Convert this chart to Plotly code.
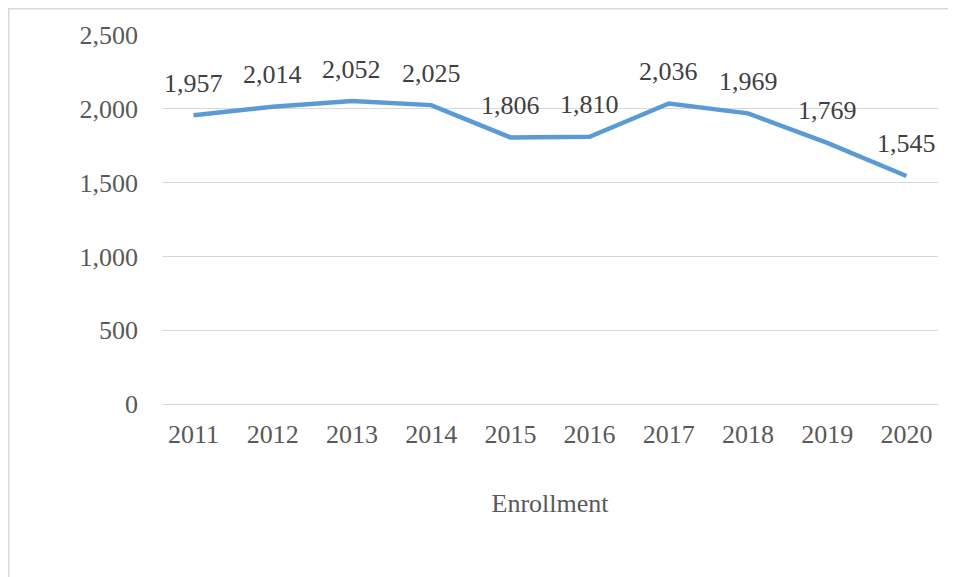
import plotly.graph_objects as go

years = ["2011", "2012", "2013", "2014", "2015", "2016", "2017", "2018", "2019", "2020"]
enrollment = [1957, 2014, 2052, 2025, 1806, 1810, 2036, 1969, 1769, 1545]
y_ticks = [0, 500, 1000, 1500, 2000, 2500]
y_tick_labels = ["0", "500", "1,000", "1,500", "2,000", "2,500"]
series_name = "Enrollment"

FONT = "'Liberation Serif', 'Times New Roman', 'DejaVu Serif', serif"
FS = 26
fig = go.Figure()
fig.add_trace(go.Scatter(
    x=years, y=enrollment, mode="lines",
    line=dict(color="#5B9BD5", width=4.5),
    hoverinfo="x+y", showlegend=False,
))

for i, v in enumerate(enrollment):
    fig.add_annotation(x=i, y=v, text=f"{v:,}", showarrow=False,
                       yshift=32, font=dict(family=FONT, size=FS, color="#404040"))

# page body has an 8px margin, so the figure is drawn 8px in and 8px down
PL, PT, PW, PH = 154, 27, 776, 369
W, H = 948, 569
fig.add_shape(type="rect", xref="paper", yref="paper",
              x0=(0.75 - PL) / PW, x1=1.05, y0=-0.6, y1=(PH + PT - 0.75) / PH,
              line=dict(color="#D9D9D9", width=1.5), fillcolor="rgba(0,0,0,0)", layer="below")

fig.update_layout(
    width=W, height=H,
    margin=dict(l=PL, r=W - PL - PW, t=PT, b=H - PT - PH, pad=0),
    paper_bgcolor="white", plot_bgcolor="white",
    font=dict(family=FONT, size=FS, color="#595959"),
    xaxis=dict(
        type="category", showgrid=False, zeroline=False, showline=False,
        ticks="", ticklabelstandoff=12,
        tickfont=dict(family=FONT, size=FS, color="#595959"),
        title=dict(text=series_name, standoff=45,
                   font=dict(family=FONT, size=FS, color="#595959")),
    ),
    yaxis=dict(
        range=[0, 2500], tickvals=y_ticks, ticktext=y_tick_labels,
        showgrid=True, gridcolor="#D9D9D9", gridwidth=1.3,
        zeroline=True, zerolinecolor="#D9D9D9", zerolinewidth=1.3,
        showline=False, ticks="", ticklabelstandoff=23,
        tickfont=dict(family=FONT, size=FS, color="#595959"),
    ),
)

fig.write_html("out.html")
